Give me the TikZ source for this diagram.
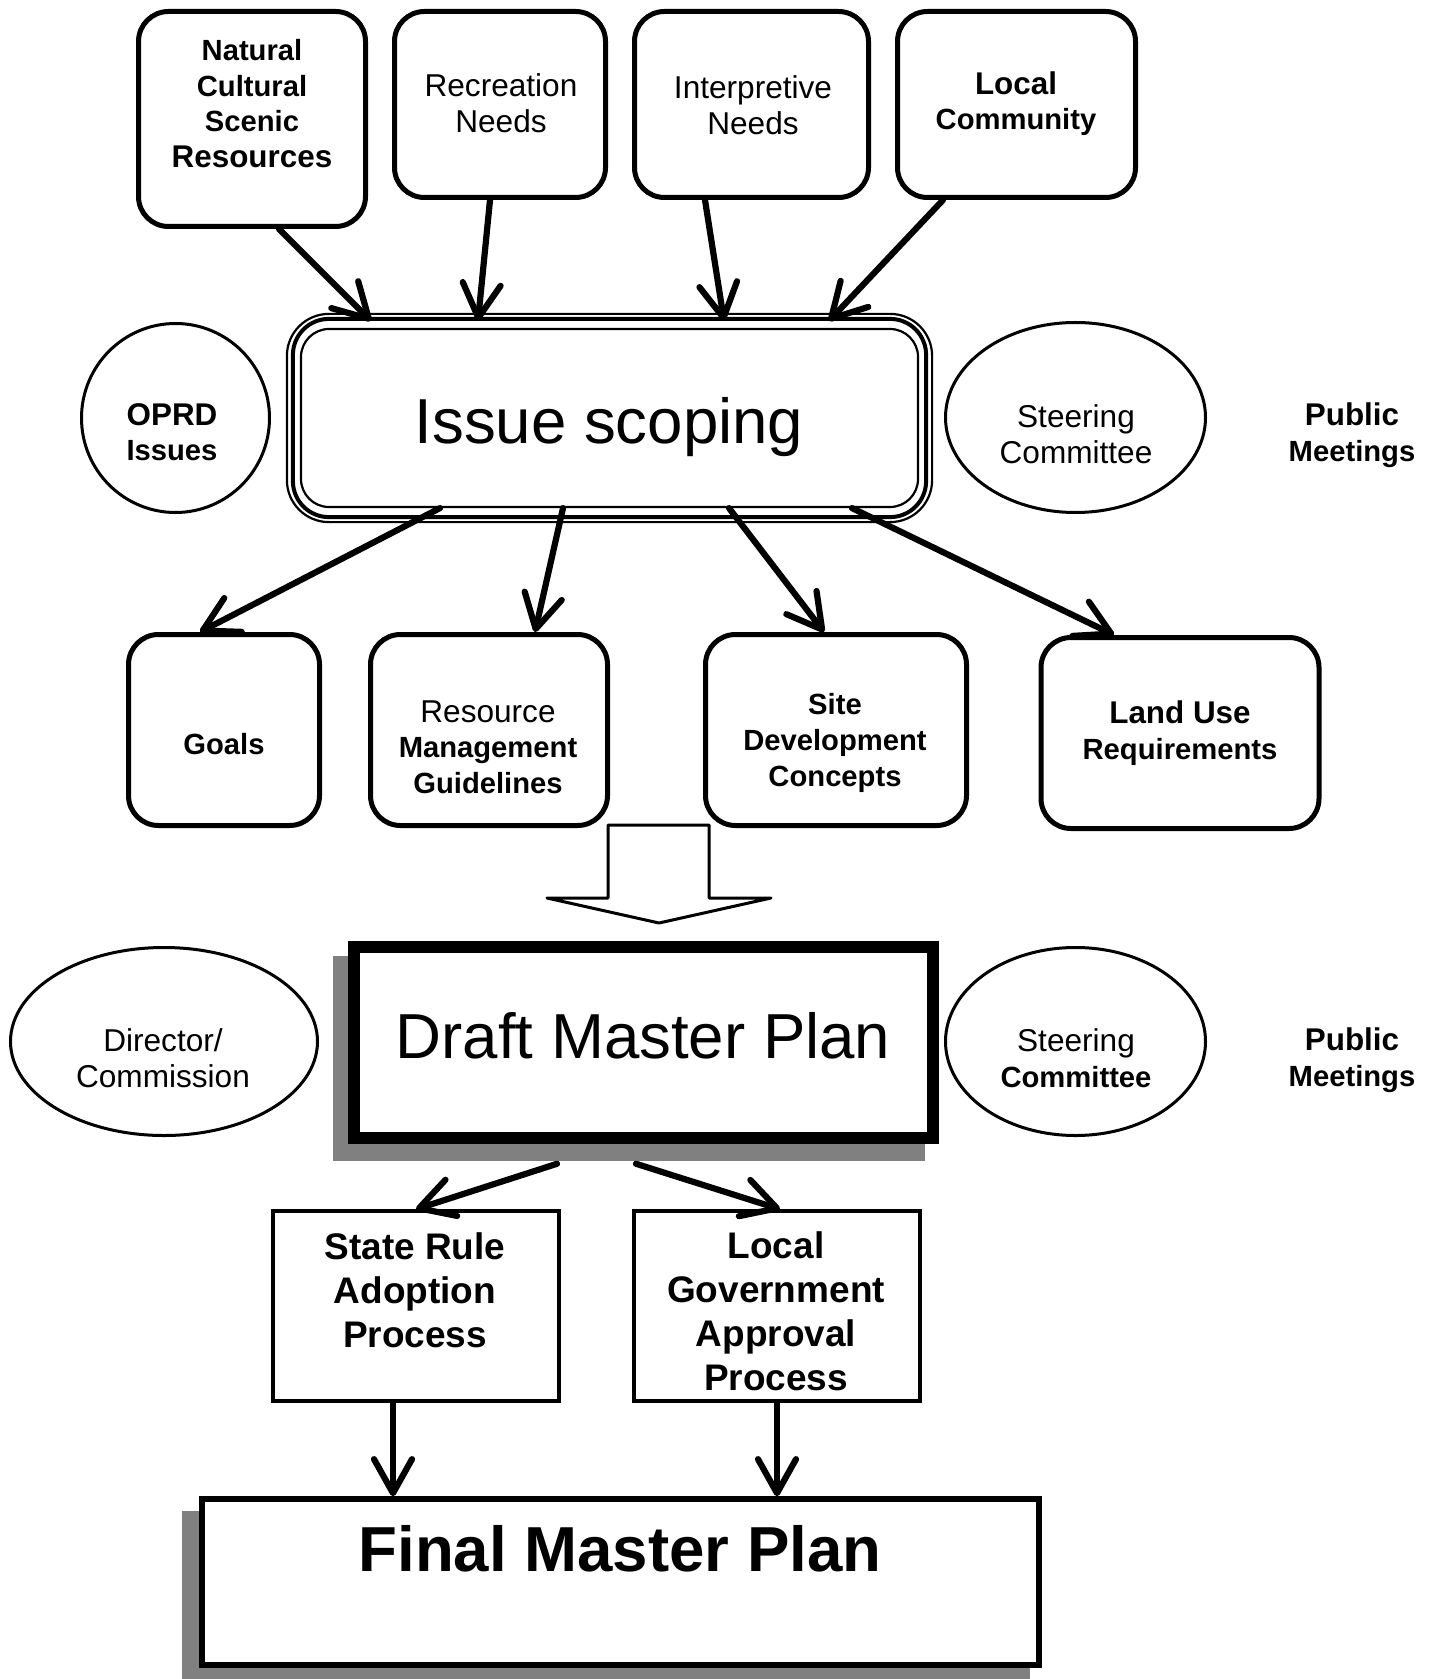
\documentclass[tikz,border=0pt]{standalone}
\usepackage{fontspec}
\setmainfont{Liberation Sans}
\usepackage{tikz}
\usetikzlibrary{arrows.meta}
\usetikzlibrary{calc}
\usetikzlibrary{shapes.geometric}
\definecolor{shadowgray}{RGB}{128,128,128}
\newcommand{\lgb}{\fontsize{15.7}{17.8}\selectfont\bfseries}
\newcommand{\smb}{\fontsize{14.6}{17.8}\selectfont\bfseries}
\tikzstyle{roundbox} = [draw, line width=2.5pt, rounded corners=15pt]
\tikzstyle{plainbox} = [draw, line width=1.75pt, fill=white]
\tikzstyle{oval} = [draw, ellipse, line width=1.5pt, inner sep=0pt]
\tikzstyle{reg} = [font=\fontsize{15.8}{17.8}\selectfont, align=center]
\tikzstyle{bld} = [font=\smb, align=center]
\tikzstyle{big} = [font=\fontsize{31.8}{38}\selectfont, anchor=base]
\tikzstyle{arr} = [->, line width=3.1pt, line cap=round]
\tikzset{>={Straight Barb[length=17pt,width=19pt,round]}}

\begin{document}
\begin{tikzpicture}[x=0.5pt,y=-0.5pt]
\useasboundingbox (0,0) rectangle (1429,1679);
    %top boxes
    \node[roundbox, minimum width=113.5pt, minimum height=107.5pt] (nat) at (252,119) {};
    \node[roundbox, minimum width=105.5pt, minimum height=93pt] (rec) at (500,104.5) {};
    \node[roundbox, minimum width=117pt, minimum height=93pt] (int) at (751.5,104.5) {};
    \node[roundbox, minimum width=119pt, minimum height=93pt] (loc) at (1016.5,104.5) {};
    %issue scoping
    \node[draw, line width=1.1pt, rounded corners=14pt, minimum width=308.5pt, minimum height=89pt] (issue) at (609.5,418) {};
    \draw[line width=2pt, rounded corners=18pt] ($(issue.north west)+(-7,-9)$) rectangle ($(issue.south east)+(7,9)$);
    \draw[line width=1.1pt, rounded corners=21pt] ($(issue.north west)+(-13,-14)$) rectangle ($(issue.south east)+(13,14)$);
    \node[oval, minimum width=94pt, minimum height=94.5pt] (oprd) at (175.5,418) {};
    \node[oval, minimum width=130pt, minimum height=95pt] (steer1) at (1075.5,417.5) {};
    %middle boxes
    \node[roundbox, minimum width=95.5pt, minimum height=95.5pt] (goals) at (224,730) {};
    \node[roundbox, minimum width=118.5pt, minimum height=95.5pt] (res) at (489,730) {};
    \node[roundbox, minimum width=130.5pt, minimum height=95.5pt] (site) at (836,730) {};
    \node[roundbox, minimum width=139pt, minimum height=95.5pt] (land) at (1180,733) {};
    %block arrow
    \draw[line width=1.5pt, line join=round, fill=white] (608,825) -- (608,898) -- (547,898) -- (659,923)
        -- (771,898) -- (709,898) -- (709,825) -- cycle;
    %draft master plan
    \fill[shadowgray] (333,956) rectangle (925,1161);
    \node[draw, line width=5.75pt, fill=white, minimum width=289.5pt, minimum height=95.5pt] (draft) at (643.5,1042.5) {};
    \node[oval, minimum width=153.5pt, minimum height=94pt] (dir) at (164,1041.5) {};
    \node[oval, minimum width=130pt, minimum height=94pt] (steer2) at (1075.5,1041.5) {};
    %approval boxes
    \node[plainbox, minimum width=143pt, minimum height=95pt] (state) at (416,1306) {};
    \node[plainbox, minimum width=143pt, minimum height=95pt] (lgov) at (777,1306) {};
    %final master plan
    \fill[shadowgray] (182,1511) rectangle (1030,1679);
    \node[draw, line width=2.75pt, fill=white, minimum width=418.5pt, minimum height=83pt] (final) at (620.5,1582) {};
    %labels
    \node[bld] (nattxt) at (252,103.5) {Natural\\Cultural\\Scenic\\\lgb Resources};
    \node[reg] (rectxt) at (501,103.5) {Recreation\\Needs};
    \node[reg] (inttxt) at (753,105) {Interpretive\\Needs};
    \node[bld] (loctxt) at (1016,103.5) {\lgb Local\\\smb Community};
    \node[big] (issuetxt) at (609,444) {Issue scoping};
    \node[bld] (oprdtxt) at (172,432) {\lgb OPRD\\\smb Issues};
    \node[reg] (steer1txt) at (1076,434) {Steering\\Committee};
    \node[bld] (pub1) at (1352,435) {\lgb Public\\\smb Meetings};
    \node[bld] (goalstxt) at (224,744) {Goals};
    \node[reg] (restxt) at (488,747) {Resource\\\smb Management\\\smb Guidelines};
    \node[bld] (sitetxt) at (835,743) {Site\\Development\\Concepts};
    \node[bld] (landtxt) at (1180,733) {\lgb Land Use\\\smb Requirements};
    \node[big] (drafttxt) at (643,1058) {Draft Master Plan};
    \node[reg] (dirtxt) at (163,1058) {Director/\\Commission};
    \node[reg] (steer2txt) at (1076,1058) {Steering\\\smb Committee};
    \node[bld] (pub2) at (1352,1060) {\lgb Public\\\smb Meetings};
    \node[font=\fontsize{18.5}{22}\selectfont\bfseries, align=center] (statetxt) at (415,1290) {State Rule\\Adoption\\Process};
    \node[font=\fontsize{18.5}{22}\selectfont\bfseries, align=center] (lgovtxt) at (776,1311.5) {Local\\Government\\Approval\\Process};
    \node[big, font=\fontsize{31.8}{38}\selectfont\bfseries] (finaltxt) at (620,1571) {Final Master Plan};
    %arrows
    \draw[arr] ($(nat.south)+(27,0)$) -- ($(issue.north)+(-238.5,-7)$);
    \draw[arr] ($(rec.south)+(-10,0)$) -- ($(issue.north)+(-131.5,-7)$);
    \draw[arr] ($(int.south)+(-46.5,0)$) -- ($(issue.north)+(114.5,-7)$);
    \draw[arr] ($(loc.south)+(-73.5,0)$) -- ($(issue.north)+(219.5,-7)$);
    \draw[arr] ($(issue.south)+(-169.5,0)$) -- ($(goals.north)+(-24,0)$);
    \draw[arr] ($(issue.south)+(-46.5,0)$) -- ($(res.north)+(46,0)$);
    \draw[arr] ($(issue.south)+(119.5,0)$) -- ($(site.north)+(-12,0)$);
    \draw[arr] ($(issue.south)+(242.5,0)$) -- ($(land.north)+(-66,0)$);
    \draw[arr] ($(draft.south)+(-86.5,20)$) -- (state.north);
    \draw[arr] ($(draft.south)+(-7.5,20)$) -- ($(lgov.north)+(3,0)$);
    \coordinate (s1) at ($(state.south)+(-23,0)$);
    \draw[arr] (s1) -- (s1 |- final.north);
    \draw[arr] (lgov.south) -- (lgov.south |- final.north);
\end{tikzpicture}
\end{document}
